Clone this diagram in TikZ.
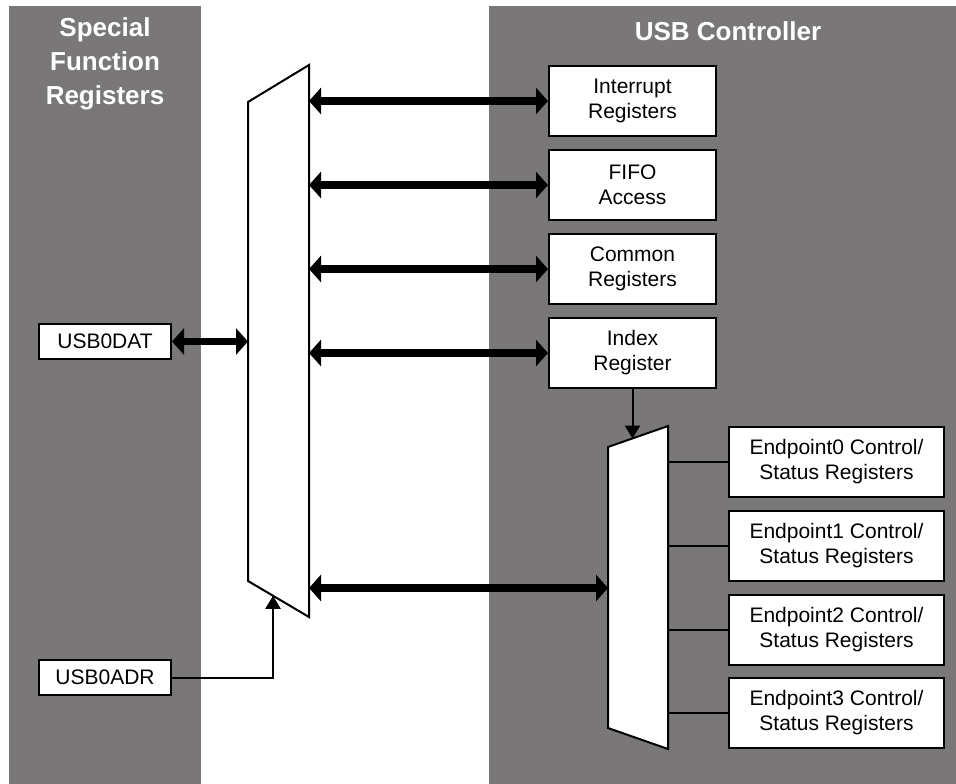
\documentclass[tikz,border=0pt]{standalone}
\usepackage{fontspec}
\setmainfont{Liberation Sans}
\usetikzlibrary{arrows.meta,calc}
\definecolor{panelgray}{RGB}{122,119,121}

\begin{document}
\begin{tikzpicture}[x=1pt, y=-1pt,
    reg/.style={draw, fill=white, line width=2pt, align=center, inner sep=0pt,
      font=\fontsize{21}{25}\selectfont},
    bus/.style={line width=7.5pt,
      {Triangle[length=12pt,width=26pt]}-{Triangle[length=12pt,width=26pt]}},
    ctl/.style={line width=2pt, -{Triangle[length=13pt,width=15pt]}},
    head/.style={text=white, align=center, font=\fontsize{26}{34}\selectfont\bfseries}]

    % --- Background panels ---
    \useasboundingbox (0,0) rectangle (956,784);
    \fill[panelgray] (9,6) rectangle (201,784);
    \fill[panelgray] (489,6) rectangle (956,784);
    \node[head] (sfrhead) at (105,64) {Special\\Function\\Registers};
    \node[head, anchor=base] (usbhead) at (728,41) {USB Controller};

    % --- Special function registers (left) ---
    \node[reg, minimum width=132pt, minimum height=35pt] (dat) at (105,341.5) {USB0DAT};
    \node[reg, minimum width=132pt, minimum height=35pt] (adr) at (105,677.5) {USB0ADR};

    % --- Controller registers ---
    \node[reg, minimum width=167pt, minimum height=70pt] (intr) at (632.5,101) {Interrupt\\Registers};
    \node[reg, minimum width=167pt, minimum height=70pt] (fifo) at (632.5,185) {FIFO\\Access};
    \node[reg, minimum width=167pt, minimum height=70pt] (comm) at (632.5,269) {Common\\Registers};
    \node[reg, minimum width=167pt, minimum height=70pt] (idx) at (632.5,353) {Index\\Register};

    % Endpoint control/status registers
    \node[reg, minimum width=215pt, minimum height=70pt] (ep0) at (836.5,461.5) {Endpoint0 Control/\\Status Registers};
    \node[reg, minimum width=215pt, minimum height=70pt] (ep1) at (836.5,545.5) {Endpoint1 Control/\\Status Registers};
    \node[reg, minimum width=215pt, minimum height=70pt] (ep2) at (836.5,630) {Endpoint2 Control/\\Status Registers};
    \node[reg, minimum width=215pt, minimum height=70pt] (ep3) at (836.5,713) {Endpoint3 Control/\\Status Registers};

    % --- Left multiplexer ---
    \coordinate (LTL) at (248,102); \coordinate (LTR) at (309,65);
    \coordinate (LBR) at (309,617); \coordinate (LBL) at (248,581);
    \filldraw[fill=white, draw=black, line width=2pt] (LTL) -- (LTR) -- (LBR) -- (LBL) -- cycle;

    % --- Right multiplexer (endpoint select) ---
    \coordinate (RTL) at (608,447); \coordinate (RTR) at (668,426);
    \coordinate (RBR) at (668,749); \coordinate (RBL) at (608,728);
    \filldraw[fill=white, draw=black, line width=2pt] (RTL) -- (RTR) -- (RBR) -- (RBL) -- cycle;

    % --- Data buses ---
    \draw[bus] (dat.east) -- (LTL |- dat.east);
    \draw[bus] (LTR |- intr.west) -- (intr.west);
    \draw[bus] (LTR |- fifo.west) -- (fifo.west);
    \draw[bus] (LTR |- comm.west) -- (comm.west);
    \draw[bus] (LTR |- idx.west) -- (idx.west);
    \coordinate (epbus) at (0,588);
    \draw[bus] (LTR |- epbus) -- (RTL |- epbus);

    % --- Select lines ---
    \coordinate (idxin) at ($(RTL)!0.4!(RTR)$);
    \draw[ctl] (idx.south) -- (idx.south |- idxin);
    \coordinate (adrin) at ($(LBL)!0.41!(LBR)$);
    \draw[ctl] (adr.east) -| (adrin);

    % endpoint taps
    \draw[line width=2pt] (RTR |- ep0.west) -- (ep0.west);
    \draw[line width=2pt] (RTR |- ep1.west) -- (ep1.west);
    \draw[line width=2pt] (RTR |- ep2.west) -- (ep2.west);
    \draw[line width=2pt] (RTR |- ep3.west) -- (ep3.west);

  \end{tikzpicture}
\end{document}
